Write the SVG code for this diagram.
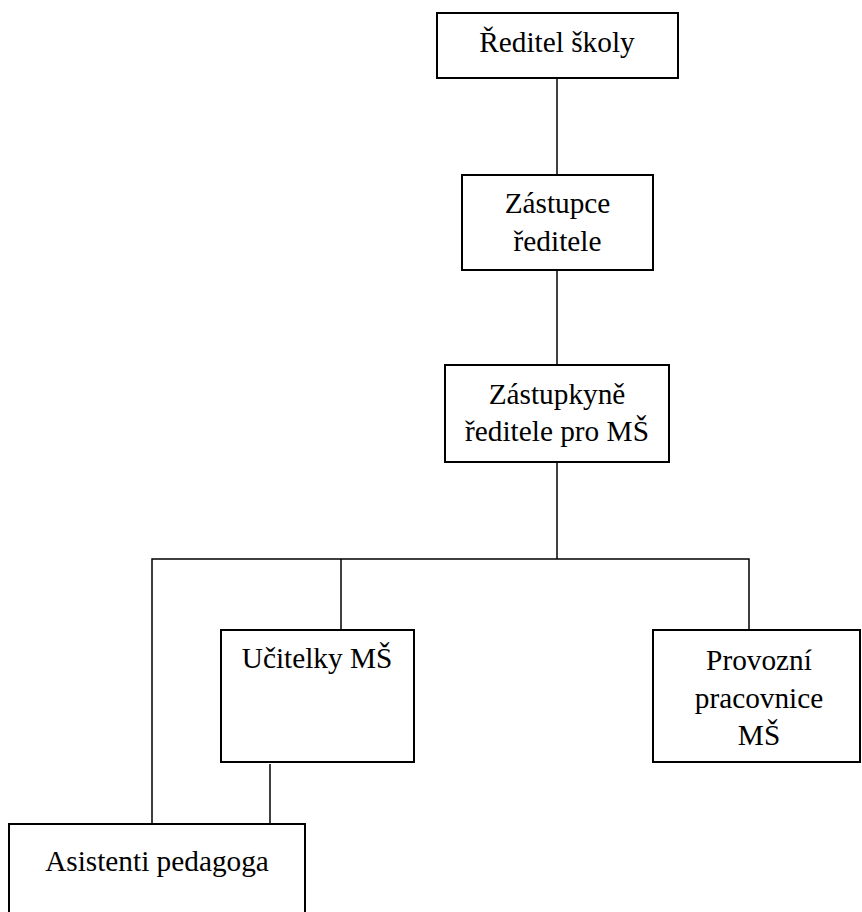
<svg xmlns="http://www.w3.org/2000/svg" width="862" height="912" viewBox="0 0 862 912">
<style>
.box{fill:#fff;stroke:#000;stroke-width:2}
.ln{fill:none;stroke:#000;stroke-width:1.5}
text{font-family:"Liberation Serif","Times New Roman",serif;font-size:29.3px;fill:#000;text-anchor:middle}
</style>
<rect width="862" height="912" fill="#fff"/>
<g id="connectors">
<line class="ln" x1="557" y1="78" x2="557" y2="175"/>
<line class="ln" x1="557" y1="270" x2="557" y2="365"/>
<line class="ln" x1="557" y1="462" x2="557" y2="559"/>
<polyline class="ln" points="152,824 152,559 749,559 749,630"/>
<line class="ln" x1="341" y1="559" x2="341" y2="630"/>
<line class="ln" x1="270" y1="764" x2="270" y2="824"/>
</g>
<g id="reditel">
<rect class="box" x="437" y="13" width="241" height="65"/>
<text x="557" y="52">Ředitel školy</text>
</g>
<g id="zastupce">
<rect class="box" x="462" y="175" width="191" height="95"/>
<text x="557.5" y="213">Zástupce</text>
<text x="557.5" y="251">ředitele</text>
</g>
<g id="zastupkyne">
<rect class="box" x="445" y="365" width="224" height="97"/>
<text x="557" y="404">Zástupkyně</text>
<text x="557" y="441">ředitele pro MŠ</text>
</g>
<g id="ucitelky">
<rect class="box" x="221" y="630" width="193" height="132"/>
<text x="317" y="668">Učitelky MŠ</text>
</g>
<g id="provozni">
<rect class="box" x="653" y="630" width="207" height="132"/>
<text x="759" y="670">Provozní</text>
<text x="759" y="708">pracovnice</text>
<text x="759" y="745">MŠ</text>
</g>
<g id="asistenti">
<rect class="box" x="9" y="824" width="296" height="100"/>
<text x="157" y="871">Asistenti pedagoga</text>
</g>
</svg>
